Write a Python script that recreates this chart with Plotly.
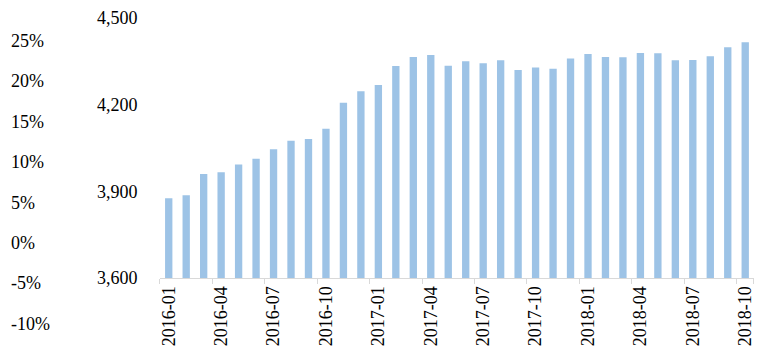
import plotly.graph_objects as go

months = ["2016-01","2016-02","2016-03","2016-04","2016-05","2016-06","2016-07","2016-08","2016-09",
          "2016-10","2016-11","2016-12","2017-01","2017-02","2017-03","2017-04","2017-05","2017-06",
          "2017-07","2017-08","2017-09","2017-10","2017-11","2017-12","2018-01","2018-02","2018-03",
          "2018-04","2018-05","2018-06","2018-07","2018-08","2018-09","2018-10"]
values = [3876, 3886, 3960, 3966, 3993, 4013, 4046, 4075, 4081, 4117, 4207, 4246, 4268, 4334,
          4365, 4372, 4335, 4350, 4343, 4354, 4320, 4329, 4324, 4360, 4375, 4365, 4364, 4379,
          4378, 4354, 4355, 4368, 4399, 4416]
value_ticks = [3600, 3900, 4200, 4500]
value_ticktext = ["3,600", "3,900", "4,200", "4,500"]
pct_ticks = [-10, -5, 0, 5, 10, 15, 20, 25]
pct_ticktext = ["-10%", "-5%", "0%", "5%", "10%", "15%", "20%", "25%"]
x_ticks = months[::3]

FONT = "Liberation Serif"
fig = go.Figure()
fig.add_trace(go.Bar(x=months, y=values, marker_color="#9DC3E6", marker_line_width=0,
                     xaxis="x", yaxis="y"))
fig.add_trace(go.Scatter(x=[], y=[], xaxis="x", yaxis="y2", showlegend=False))

fig.update_layout(
    width=767, height=353,
    margin=dict(l=0, r=0, t=0, b=0, autoexpand=False),
    paper_bgcolor="white", plot_bgcolor="rgba(0,0,0,0)",
    showlegend=False, bargap=0.58,
    font=dict(family=FONT, size=18, color="#000000"),
    xaxis=dict(domain=[0.2086, 0.983], type="category", anchor="y", automargin=False,
               tickmode="array", tickvals=x_ticks, ticktext=x_ticks,
               tickangle=-90, ticks="outside", ticklen=5, tickcolor="#d9d9d9",
               tickson="boundaries", showline=True, linecolor="#d9d9d9", linewidth=1,
               showgrid=False, tickfont=dict(family=FONT, size=18)),
    yaxis=dict(domain=[0.2125, 0.949], range=[3600, 4500], anchor="x", automargin=False,
               tickmode="array", tickvals=value_ticks, ticktext=value_ticktext,
               showgrid=False, zeroline=False, showline=False,
               ticks="outside", ticklen=18, tickcolor="rgba(0,0,0,0)",
               tickfont=dict(family=FONT, size=18)),
    yaxis2=dict(domain=[0.0841, 0.8847], range=[-10, 25], anchor="free", position=0.013,
                side="right", tickmode="array", tickvals=pct_ticks, ticktext=pct_ticktext,
                showgrid=False, zeroline=False, showline=False, ticks="",
                automargin=False, tickfont=dict(family=FONT, size=18)),
)
fig.write_html("out.html")
